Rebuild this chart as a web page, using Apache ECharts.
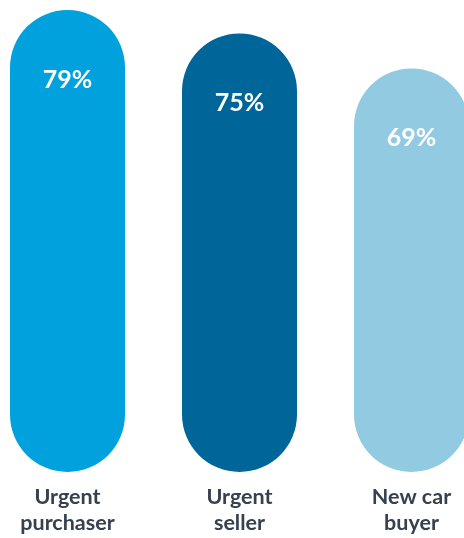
<!DOCTYPE html>
<html><head><meta charset="utf-8">
<script src="https://cdn.jsdelivr.net/npm/echarts@6/dist/echarts.min.js"></script>
<style>html,body{margin:0;padding:0;background:#fff}#c{width:464px;height:538px}</style>
</head><body><div id="c"></div>
<script>
const categories = ['Urgent\npurchaser', 'Urgent\nseller', 'New car\nbuyer'];
const values = [79, 75, 69];
const colors = ['#00a1dc', '#006699', '#92cae2'];

const chart = echarts.init(document.getElementById('c'), null, {renderer: 'canvas'});
chart.setOption({
  animation: false,
  grid: {left: -18.5, width: 516, top: 10, bottom: 66, containLabel: false, outerBoundsMode: 'none'},
  xAxis: {
    type: 'category', data: categories,
    axisLine: {show: false}, axisTick: {show: false},
    axisLabel: {interval: 0, margin: 12, color: '#36404f', fontFamily: 'Lato', fontWeight: 'bold', fontSize: 21.5, lineHeight: 26}
  },
  yAxis: {type: 'value', min: 0, max: 79, show: false, splitLine: {show: false}},
  series: [{
    type: 'bar', barWidth: 115,
    data: values.map((v, i) => ({value: v, itemStyle: {color: colors[i]}})),
    itemStyle: {borderRadius: 58},
    label: {
      show: true, position: 'insideTop', distance: 57,
      formatter: '{c}%', color: '#fff', fontFamily: 'Lato', fontWeight: 'bold', fontSize: 25
    }
  }]
});
</script></body></html>
